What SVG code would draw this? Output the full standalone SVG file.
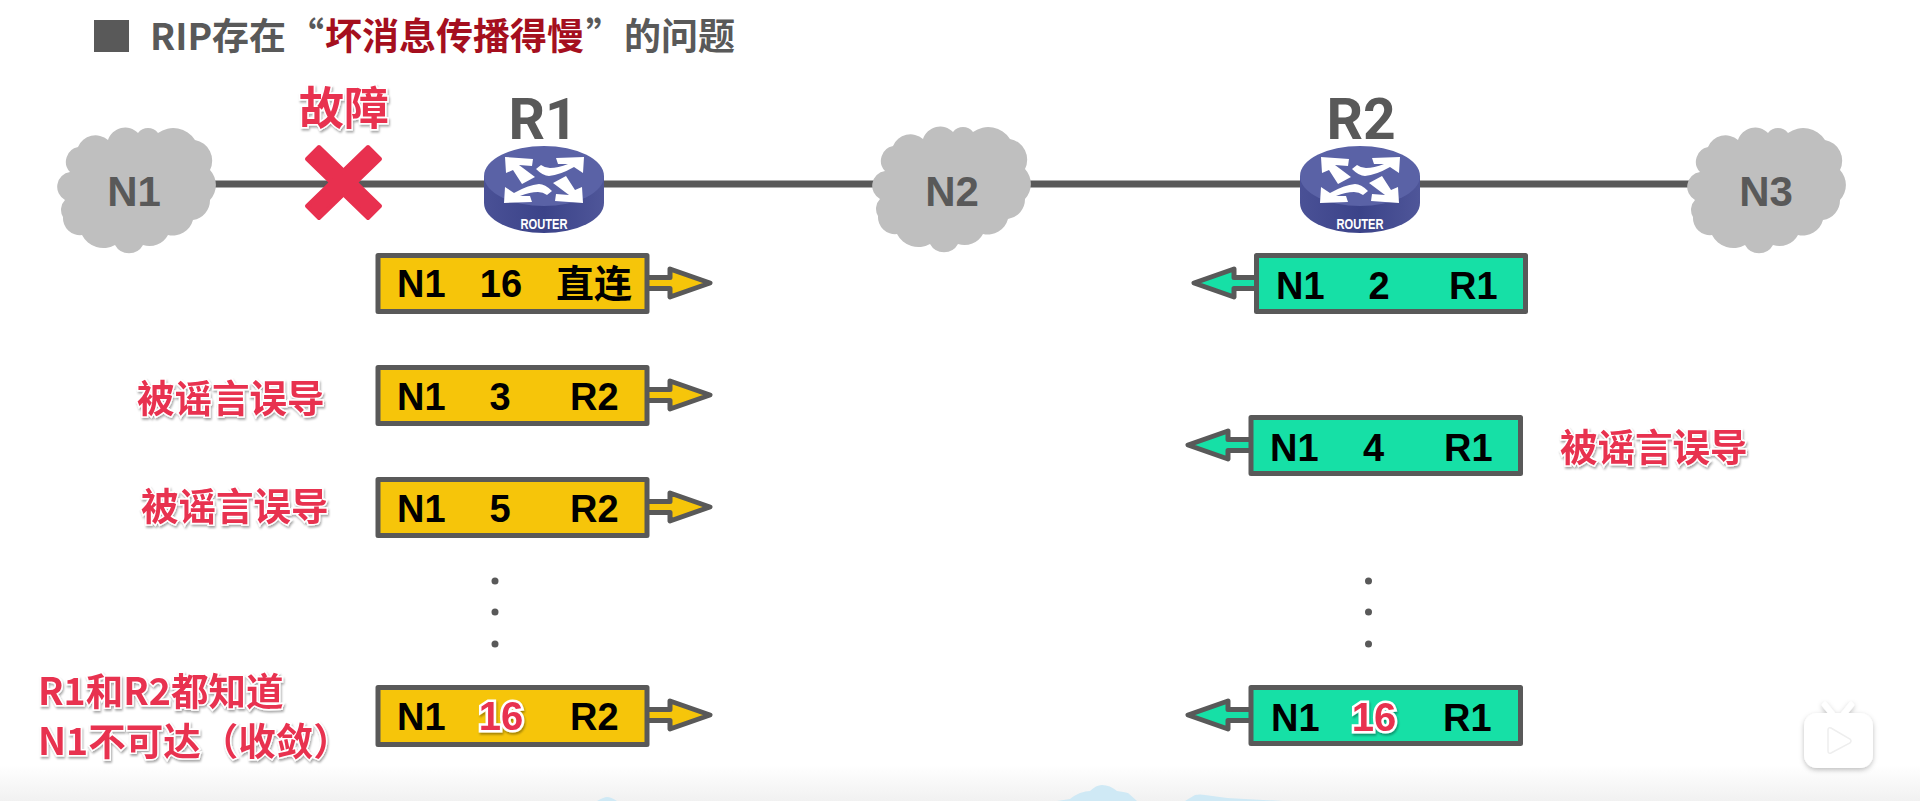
<svg xmlns="http://www.w3.org/2000/svg" xmlns:xlink="http://www.w3.org/1999/xlink" width="1920" height="801" viewBox="0 0 1920 801">
<style>
text{font-family:"Liberation Sans","Noto Sans CJK SC",sans-serif;font-weight:700}
.cjk{font-family:"Noto Sans CJK SC",sans-serif}
.title{font-size:37px;fill:#595959}
.hot{fill:#a50f1e}
.net{font-size:42px;fill:#595959;text-anchor:middle}
.rname{font-family:Roboto,"Liberation Sans",sans-serif;font-size:57px;fill:#595959;text-anchor:middle}
.rtag{font-size:14px;fill:#fff;text-anchor:middle}
.cell{font-size:38px;fill:#000}
.mid{text-anchor:middle}
.note{font-family:"Noto Sans CJK SC",sans-serif;font-size:37.5px;fill:#e8304f;stroke:#fff;stroke-width:3px;paint-order:stroke;filter:url(#sh)}
.red16{font-size:40px;fill:#e8304f;stroke:#fff;stroke-width:5px;paint-order:stroke;text-anchor:middle;filter:url(#sh)}
.box{stroke:#595959;stroke-width:5;stroke-linejoin:round}
.y{fill:#f6c50a}
.g{fill:#16e0a6}
.dot{fill:#595959}
.cloud{fill:#bfbfbf}
</style>
<defs>
<linearGradient id="floor" x1="0" y1="0" x2="0" y2="1"><stop offset="0" stop-color="#fff"/><stop offset="1" stop-color="#f1f1f1"/></linearGradient>
<linearGradient id="side" x1="0" y1="0" x2="1" y2="0"><stop offset="0" stop-color="#4a5196"/><stop offset=".5" stop-color="#3b4389"/><stop offset="1" stop-color="#4f5699"/></linearGradient>
<filter id="sh" x="-10%" y="-20%" width="120%" height="150%"><feDropShadow dx="1" dy="2" stdDeviation="1.2" flood-color="#000" flood-opacity=".35"/></filter>
<filter id="soft" x="-20%" y="-20%" width="140%" height="140%"><feDropShadow dx="0" dy="2" stdDeviation="2.500" flood-color="#000" flood-opacity=".25"/></filter>
<path id="cloud" d="M-66-18A15 15 0 0 1-58-43A19 19 0 0 1-28-50A18 18 0 0 1 2-57A12.500 12.500 0 0 1 22-57A26 26 0 0 1 59-50A21 21 0 0 1 74-20A22 22 0 0 1 74 10A20 20 0 0 1 57 30A21 21 0 0 1 32 45A21 21 0 0 1 7 55A16 16 0 0 1-21 55A24 24 0 0 1-54 45A17 17 0 0 1-73 27A14 14 0 0 1-71 10A15 15 0 0 1-66-18Z"/>
<path id="arA" d="M-39-19L-11-17L-12-10L-25-11L-9 1L-22 8L-31-6L-38-3Z" fill="#fff"/>
<path id="arB" d="M40-19L12-18L14-12L24-12Q14-8 6-8Q1-8-3-11L-8-7Q-1 0 5 0Q16-1 30-9L39-3Z" fill="#fff"/>
<g id="router">
<path d="M-60 0V27A60 30 0 0 0 60 27V0Z" fill="url(#side)"/>
<ellipse cx="0" cy="0" rx="60" ry="30" fill="#5a62a6"/>
<use href="#arA"/><use href="#arB"/>
<use href="#arA" transform="rotate(180 0 4)"/><use href="#arB" transform="rotate(180 0 4)"/>
</g>
<path id="head" d="M0 24.500H21V16L61 30L21 44V35.500H0"/>
</defs>

<rect x="0" y="765" width="1920" height="36" fill="url(#floor)"/>
<g id="scenery" fill="#cfe9f5">
<path d="M1057 801L1070 799Q1075 795 1080 793Q1086 791 1090 791Q1096 785 1102 785Q1110 785 1117 791Q1124 792 1128 793L1137 801Z"/>
<path d="M1185 801L1195 795Q1200 794 1205 795L1227 798L1283 801Z"/>
<path d="M597 801Q604 797 607 797Q611 797 617 801Z"/>
</g>

<g id="title">
<rect x="94" y="20" width="35" height="32" fill="#595959"/>
<text class="title cjk" x="150" y="50">RIP存在</text>
<text class="title cjk" x="287" y="50">“</text>
<text class="title cjk hot" x="325" y="50">坏消息传播得慢</text>
<text class="title cjk" x="586" y="50">”</text>
<text class="title cjk" x="624" y="50">的问题</text>
</g>

<g id="connectors">
<line x1="200" y1="184" x2="1700" y2="184" stroke="#595959" stroke-width="7"/>
</g>

<g id="N1"><use href="#cloud" class="cloud" transform="translate(136 190)"/><text class="net" x="134" y="206">N1</text></g>
<g id="N2"><use href="#cloud" class="cloud" transform="translate(951 189)"/><text class="net" x="952" y="206">N2</text></g>
<g id="N3"><use href="#cloud" class="cloud" transform="translate(1766 190)"/><text class="net" x="1766" y="206">N3</text></g>

<g id="fault">
<text class="note" style="font-size:45px" x="299" y="125">故障</text>
<path d="M319 147L380 206L368 218L307 159Z" fill="#e8304f" stroke="#e8304f" stroke-width="4" stroke-linejoin="round"/>
<path d="M368 147L307 206L319 218L380 159Z" fill="#e8304f" stroke="#e8304f" stroke-width="4" stroke-linejoin="round"/>
</g>

<g id="R1"><use href="#router" transform="translate(544 176)"/><text class="rname" x="543" y="139">R1</text><text class="rtag" x="544" y="229" textLength="47" lengthAdjust="spacingAndGlyphs">ROUTER</text></g>
<g id="R2"><use href="#router" transform="translate(1360 176)"/><text class="rname" x="1361" y="139">R2</text><text class="rtag" x="1360" y="229" textLength="47" lengthAdjust="spacingAndGlyphs">ROUTER</text></g>

<g id="r1-row1">
<use href="#head" class="y box" transform="translate(649 253)"/>
<rect class="y box" x="378" y="255.500" width="269" height="56"/>
<text class="cell" x="397" y="297">N1</text><text class="cell mid" x="501" y="297">16</text><text class="cell cjk" x="556" y="297">直连</text>
</g>
<g id="r1-row2">
<use href="#head" class="y box" transform="translate(649 365)"/>
<rect class="y box" x="378" y="367.500" width="269" height="56"/>
<text class="cell" x="397" y="410">N1</text><text class="cell mid" x="500" y="410">3</text><text class="cell" x="570" y="410">R2</text>
</g>
<g id="r1-row3">
<use href="#head" class="y box" transform="translate(649 477)"/>
<rect class="y box" x="378" y="479.500" width="269" height="56"/>
<text class="cell" x="397" y="522">N1</text><text class="cell mid" x="500" y="522">5</text><text class="cell" x="570" y="522">R2</text>
</g>
<g id="r1-row4">
<use href="#head" class="y box" transform="translate(649 685)"/>
<rect class="y box" x="378" y="687.500" width="269" height="57"/>
<text class="cell" x="397" y="730">N1</text><text class="red16" x="501" y="730">16</text><text class="cell" x="570" y="730">R2</text>
</g>

<g id="r2-row1">
<use href="#head" class="g box" transform="translate(1255 253) scale(-1 1)"/>
<rect class="g box" x="1256.500" y="255.500" width="269" height="56"/>
<text class="cell" x="1276" y="299">N1</text><text class="cell mid" x="1379" y="299">2</text><text class="cell" x="1449" y="299">R1</text>
</g>
<g id="r2-row2">
<use href="#head" class="g box" transform="translate(1249 415) scale(-1 1)"/>
<rect class="g box" x="1251" y="417.500" width="269.500" height="56"/>
<text class="cell" x="1270" y="461">N1</text><text class="cell mid" x="1373.500" y="461">4</text><text class="cell" x="1444" y="461">R1</text>
</g>
<g id="r2-row3">
<use href="#head" class="g box" transform="translate(1249 685) scale(-1 1)"/>
<rect class="g box" x="1251" y="687.500" width="269.500" height="56"/>
<text class="cell" x="1271" y="731">N1</text><text class="red16" x="1374" y="731">16</text><text class="cell" x="1443" y="731">R1</text>
</g>

<g id="notes">
<text class="note" x="137" y="412">被谣言误导</text>
<text class="note" x="141" y="520">被谣言误导</text>
<text class="note" x="1560" y="461">被谣言误导</text>
<text class="note" x="38" y="705">R1和R2都知道</text>
<text class="note" x="38" y="755">N1不可达（收敛）</text>
</g>

<g id="ellipsis">
<circle class="dot" cx="495" cy="581" r="3.500"/><circle class="dot" cx="495" cy="612" r="3.500"/><circle class="dot" cx="495" cy="644" r="3.500"/>
<circle class="dot" cx="1368.500" cy="581" r="3.500"/><circle class="dot" cx="1368.500" cy="612" r="3.500"/><circle class="dot" cx="1368.500" cy="644" r="3.500"/>
</g>

<g id="badge" filter="url(#soft)">
<path d="M1825 705L1833 715M1851 705L1843 715" stroke="#fff" stroke-width="6" stroke-linecap="round"/>
<rect x="1804" y="713" width="69" height="55" rx="13" fill="#fff"/>
<path d="M1828 730Q1828 727 1831 728L1850 739Q1852 741 1850 743L1831 753Q1828 754 1828 751Z" fill="#fff" stroke="#eee" stroke-width="1.500"/>
</g>
</svg>
